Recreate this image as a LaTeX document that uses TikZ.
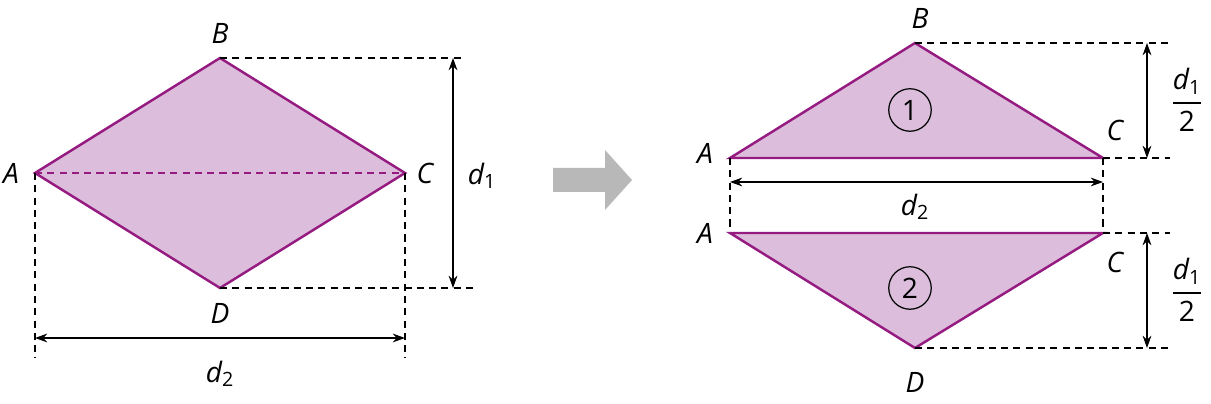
\documentclass[tikz,border=0pt]{standalone}
\usepackage{amsmath}
\usepackage{fontspec}
\setmainfont{Open Sans}
\usetikzlibrary{calc}
\usetikzlibrary{positioning}
\usetikzlibrary{arrows.meta}
\definecolor{rhfill}{HTML}{DCBEDC}
\definecolor{rhline}{HTML}{951B81}
\newcommand{\dd}[1]{\textit{d}$_{\text{\upshape #1}}$}
\begin{document}
\begin{tikzpicture}[x=0.02cm,y=-0.02cm,font=\fontsize{16}{18}\selectfont\itshape]

                \tikzset{piece/.style={draw=rhline,fill=rhfill,line width=1.4pt,line join=miter}}
                \tikzset{guide/.style={dash pattern=on 4pt off 3pt,line width=0.6pt}}
                \tikzset{dim/.style={{Stealth[length=7pt,width=5pt]}-{Stealth[length=7pt,width=5pt]},line width=0.7pt}}
                \tikzset{num/.style={circle,draw,line width=0.7pt,minimum size=0.85cm,inner sep=0pt,font=\fontsize{16}{18}\selectfont\upshape}}

                \useasboundingbox (0,0) rectangle (1211,404);

                % Left rhombus
                \coordinate (A) at (35,173);
                \coordinate (B) at (220,58);
                \coordinate (C) at (405,173);
                \coordinate (D) at (220,288);
                \draw[piece] (A) -- (B) -- (C) -- (D) -- cycle;
                \draw[rhline,dash pattern=on 4pt off 3pt,line width=1.1pt] (A) -- (C);
                \node (lA) at (11,173) {A};
                \node (lB) at (220,33) {B};
                \node (lC) at (425,173) {C};
                \node (lD) at (220,313) {D};

                \coordinate (b1) at (462,58);
                \coordinate (d1) at (475,288);
                \draw[guide] (B) -- (b1);
                \draw[guide] (D) -- (d1);
                \draw[dim] (453,58) -- (453,288);
                \node (lh) at (482,176) {\dd{1}};

                \coordinate (a1) at (35,358);
                \coordinate (c1) at (405,358);
                \draw[guide] (A) -- (a1);
                \draw[guide] (C) -- (c1);
                \draw[dim] (35,338) -- (405,338);
                \node (lw) at (220,374) {\dd{2}};

                % Arrow
                \fill[black!28] (553,168) -- (605,168) -- (605,150) -- (632,180)
                    -- (605,210) -- (605,192) -- (553,192) -- cycle;

                % Upper triangle
                \coordinate (A1) at (730,158);
                \coordinate (B1) at (915,43);
                \coordinate (C1) at (1103,158);
                \draw[piece] (A1) -- (B1) -- (C1) -- cycle;
                \node[num] (n1) at (910,110) {1};
                \node (tA) at (705,153) {A};
                \node (tB) at (920,18) {B};
                \node (tC) at (1115,130) {C};
                \coordinate (b2) at (1170,43);
                \coordinate (c2) at (1170,158);
                \draw[guide] (B1) -- (b2);
                \draw[guide] (C1) -- (c2);
                \draw[dim] (1147,43) -- (1147,158);
                \node (th) at (1187,100) {$\dfrac{\text{\dd{1}}}{\text{\upshape 2}}$};

                % Base between
                \coordinate (A2) at (730,233);
                \coordinate (C2) at (1103,233);
                \draw[guide] (A1) -- (A2);
                \draw[guide] (C1) -- (C2);
                \draw[dim] (730,182) -- (1103,182);
                \node (mw) at (915,207) {\dd{2}};

                % Lower triangle
                \coordinate (D2) at (915,348);
                \draw[piece] (A2) -- (C2) -- (D2) -- cycle;
                \node[num] (n2) at (910,288) {2};
                \node (uA) at (705,233) {A};
                \node (uC) at (1115,262) {C};
                \node (uD) at (915,382) {D};
                \coordinate (c3) at (1170,233);
                \coordinate (d3) at (1170,348);
                \draw[guide] (C2) -- (c3);
                \draw[guide] (D2) -- (d3);
                \draw[dim] (1147,233) -- (1147,348);
                \node (uh) at (1187,290) {$\dfrac{\text{\dd{1}}}{\text{\upshape 2}}$};

\end{tikzpicture}
\end{document}
